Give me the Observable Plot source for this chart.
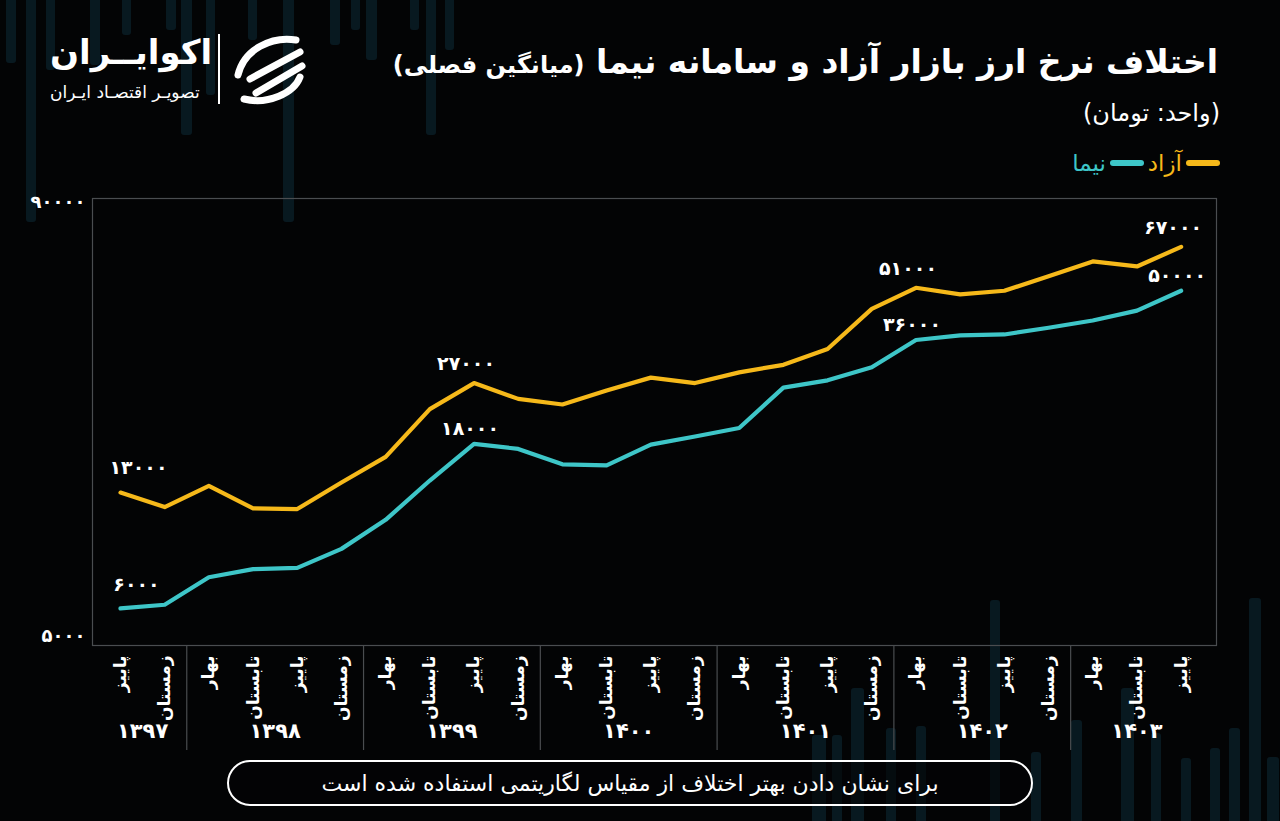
<!DOCTYPE html>
<html lang="fa">
<head>
<meta charset="utf-8">
<script src="https://cdn.jsdelivr.net/npm/d3@7"></script>
<script src="https://cdn.jsdelivr.net/npm/@observablehq/plot@0.6"></script>
<style>
  html, body { margin:0; padding:0; background:#030405; }
  #page { position:relative; width:1280px; height:821px; background:#030405; overflow:hidden; font-family:"DejaVu Sans", sans-serif; color:#fff; }
  .abs { position:absolute; }
  .bg { position:absolute; background:rgba(16,52,66,0.45); border-radius:3px; }
  #title { right:62px; top:37px; direction:rtl; white-space:nowrap; font-weight:bold; font-size:33px; line-height:50px; }
  #title small { font-size:24px; }
  #subtitle { right:60px; top:99px; direction:rtl; font-size:24px; white-space:nowrap; }
  #legend { right:60px; top:150px; direction:rtl; font-size:23px; white-space:nowrap; display:flex; align-items:center; gap:4px; }
  .sw { display:inline-block; width:34px; height:6px; border-radius:3px; }
  #logo1 { left:50px; top:32px; font-weight:bold; font-size:34px; direction:rtl; white-space:nowrap; }
  #logo2 { left:50px; top:82px; font-size:17px; direction:rtl; white-space:nowrap; }
  #sep { left:218px; top:34px; width:1.5px; height:70px; background:#fff; }
  #icon { left:230px; top:33px; }
  #foot { left:227px; top:760px; width:802px; height:42px; border:2px solid #fff; border-radius:23px; display:flex; align-items:center; justify-content:center; direction:rtl; font-size:22px; background:rgba(3,4,5,0.6); }
  #chart { left:0; top:190px; }
</style>
</head>
<body>
<div id="page">
  <div id="bgbars"></div>
  <div id="title" class="abs">اختلاف نرخ ارز بازار آزاد و سامانه نیما <small>(میانگین فصلی)</small></div>
  <div id="subtitle" class="abs">(واحد: تومان)</div>
  <div id="legend" class="abs">
    <span class="sw" style="background:#f6b91a"></span><span style="color:#f6b91a">آزاد</span>
    <span class="sw" style="background:#3ec6c8"></span><span style="color:#3ec6c8">نیما</span>
  </div>
  <div id="logo1" class="abs">اکوایــران</div>
  <div id="logo2" class="abs">تصویـر اقتصـاد ایـران</div>
  <div id="sep" class="abs"></div>
  <svg id="icon" class="abs" width="78" height="74" viewBox="0 0 78 74">
    <g fill="none" stroke="#fff" stroke-width="7" stroke-linecap="round">
      <path d="M66 7 C42 3 14 16 8 42"/>
      <path d="M70 19 L20 46"/>
      <path d="M72 33 L26 60"/>
      <path d="M14 66 C38 72 64 60 70 44"/>
    </g>
  </svg>
  <div id="chart" class="abs"></div>
  <div id="foot" class="abs">برای نشان دادن بهتر اختلاف از مقیاس لگاریتمی استفاده شده است</div>
</div>
<script>
// ---- data ----
const seasons = ["پاییز","زمستان",
  "بهار","تابستان","پاییز","زمستان",
  "بهار","تابستان","پاییز","زمستان",
  "بهار","تابستان","پاییز","زمستان",
  "بهار","تابستان","پاییز","زمستان",
  "بهار","تابستان","پاییز","زمستان",
  "بهار","تابستان","پاییز"];
const years = ["۱۳۹۷","۱۳۹۷",
  "۱۳۹۸","۱۳۹۸","۱۳۹۸","۱۳۹۸",
  "۱۳۹۹","۱۳۹۹","۱۳۹۹","۱۳۹۹",
  "۱۴۰۰","۱۴۰۰","۱۴۰۰","۱۴۰۰",
  "۱۴۰۱","۱۴۰۱","۱۴۰۱","۱۴۰۱",
  "۱۴۰۲","۱۴۰۲","۱۴۰۲","۱۴۰۲",
  "۱۴۰۳","۱۴۰۳","۱۴۰۳"];
const azad = [13000,11800,13600,11700,11650,13900,16500,22700,27000,24300,23400,25700,28000,27000,29000,30500,33900,44300,51000,48800,50000,55100,60800,58800,67000];
const nima = [6000,6150,7390,7800,7870,8930,10840,14090,18000,17400,15700,15600,17900,18900,20000,26200,27500,30000,36000,37100,37350,39050,41000,43800,50000];
const labelIdx = [0, 8, 18, 24];
const yTicks = [5000, 90000];

// decorative background stripes (page decoration, not data)
const decoTop = [[6,10,63],[26,10,222],[46,9,70],[90,10,65],[122,9,35],[166,10,30],[181,11,135],[206,9,95],[248,9,40],[283,11,222],[330,10,45],[351,9,30],[366,11,60],[410,9,30],[426,10,135],[445,9,50]];
const decoBot = [[812,14,735],[832,10,735],[851,13,688],[886,10,728],[916,10,726],[990,10,600],[1031,10,752],[1071,11,720],[1121,13,688],[1151,10,733],[1181,10,758],[1210,10,748],[1229,11,728],[1249,12,598],[1267,12,757]];
const bgHost = document.getElementById("bgbars");
decoTop.forEach(([x, w, b]) => { const e = document.createElement("div"); e.className = "bg"; e.style.cssText = `left:${x}px;width:${w}px;top:-4px;height:${b + 4}px`; bgHost.appendChild(e); });
decoBot.forEach(([x, w, t]) => { const e = document.createElement("div"); e.className = "bg"; e.style.cssText = `left:${x}px;width:${w}px;top:${t}px;height:${825 - t}px`; bgHost.appendChild(e); });

const toFa = v => String(v).replace(/\d/g, d => "۰۱۲۳۴۵۶۷۸۹"[d]);

const YELLOW = "#f6b91a", CYAN = "#3ec6c8";
const idx = seasons.map((s, i) => i);
const rowsA = idx.map(i => ({i, v: azad[i]}));
const rowsN = idx.map(i => ({i, v: nima[i]}));
const labA = rowsA.filter(d => labelIdx.includes(d.i));
const labN = rowsN.filter(d => labelIdx.includes(d.i));

// year groups
const yearNames = [...new Set(years)];
const yearGroups = yearNames.map(y => {
  const ii = idx.filter(i => years[i] === y);
  return {y, c: d3.mean(ii), first: ii[0]};
});
const boundaries = yearGroups.slice(1).map(g => g.first - 0.5);

const chart = Plot.plot({
  width: 1280,
  height: 560,
  marginLeft: 92,
  marginRight: 64,
  marginTop: 8,
  marginBottom: 105,
  style: {background: "transparent", color: "#fff", fontFamily: "DejaVu Sans, sans-serif"},
  x: {type: "linear", domain: [-0.633, 24.8], axis: null},
  y: {type: "log", domain: [4686, 92540], axis: null},
  marks: [
    Plot.frame({stroke: "#4a4d50", strokeWidth: 1.2}),
    Plot.text(yTicks, {y: d => d, text: d => toFa(d), frameAnchor: "left", textAnchor: "end", dx: -7, fontSize: 18, fontWeight: "bold", fill: "#fff"}),
    Plot.axisX({ticks: idx, tickFormat: i => seasons[i], tickRotate: -90, tickSize: 0, tickPadding: 10, fontSize: 17, fontWeight: "bold", label: null}),
    Plot.ruleX(boundaries, {x: d => d, stroke: "#4a4d50", strokeWidth: 1.2, insetTop: 447, insetBottom: -105}),
    Plot.text(yearGroups, {x: "c", text: "y", frameAnchor: "bottom", dy: 92, fontSize: 21, fontWeight: "bold", fill: "#fff"}),
    Plot.line(rowsA, {x: "i", y: "v", stroke: YELLOW, strokeWidth: 4.2}),
    Plot.line(rowsN, {x: "i", y: "v", stroke: CYAN, strokeWidth: 4.2}),
    Plot.text(labA.filter(d => d.i === 0), {x: "i", y: "v", text: d => toFa(d.v), dx: 18, dy: -25, fontSize: 19, fontWeight: "bold", fill: "#fff"}),
    Plot.text(labA.filter(d => d.i !== 0), {x: "i", y: "v", text: d => toFa(d.v), dx: -8, dy: -19, fontSize: 19, fontWeight: "bold", fill: "#fff"}),
    Plot.text(labN.filter(d => d.i === 0), {x: "i", y: "v", text: d => toFa(d.v), dx: 16, dy: -24, fontSize: 19, fontWeight: "bold", fill: "#fff"}),
    Plot.text(labN.filter(d => d.i !== 0), {x: "i", y: "v", text: d => toFa(d.v), dx: -4, dy: -15, fontSize: 19, fontWeight: "bold", fill: "#fff"})
  ]
});
document.getElementById("chart").appendChild(chart);
</script>
</body>
</html>
